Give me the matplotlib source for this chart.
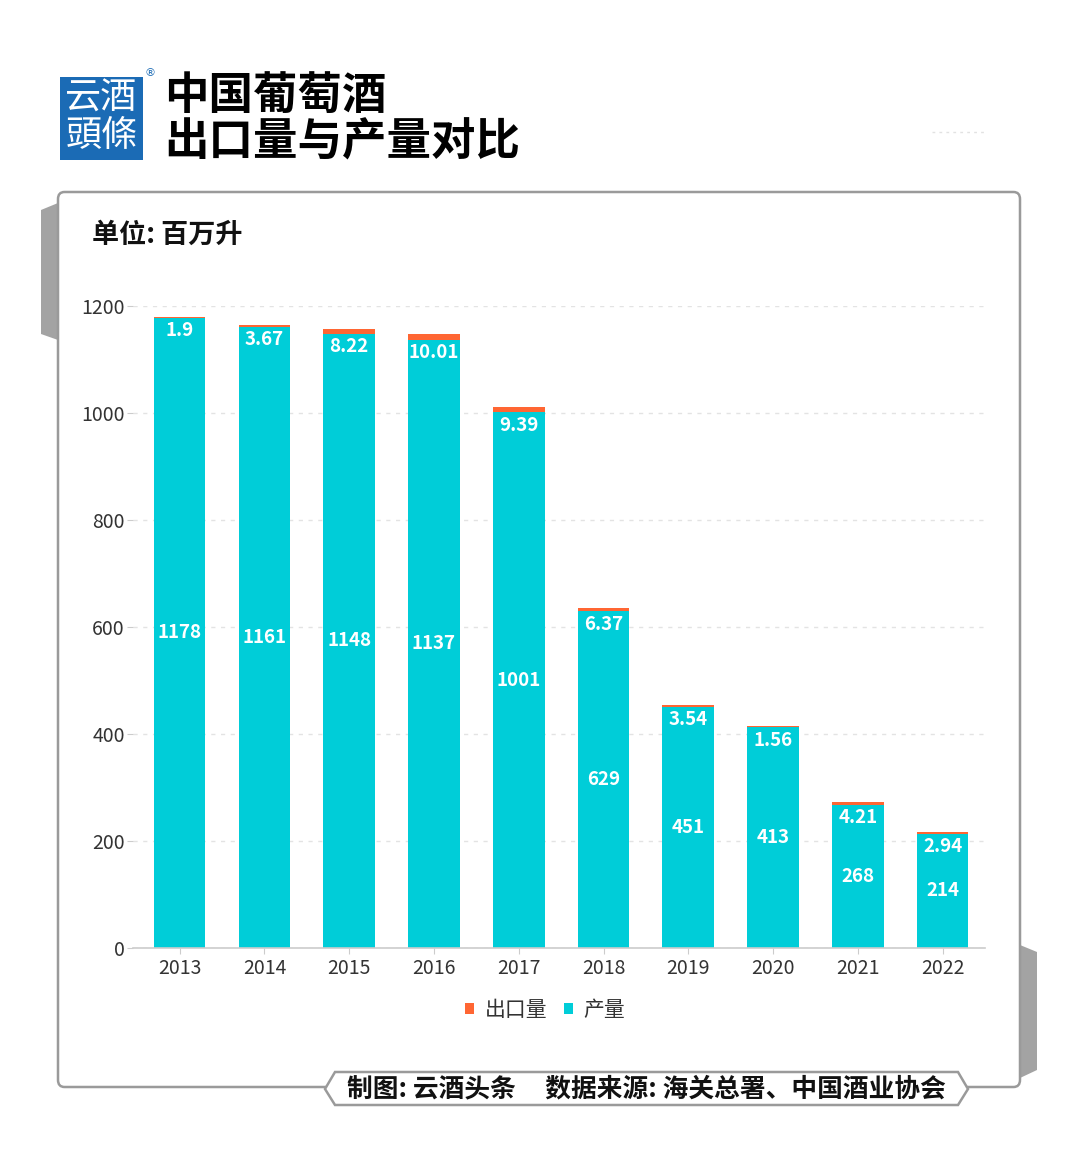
import matplotlib

matplotlib.use("Agg")
import matplotlib.pyplot as plt
from matplotlib.patches import FancyBboxPatch, Polygon, Rectangle
from matplotlib.lines import Line2D
from matplotlib.ticker import MultipleLocator

plt.rcParams["font.family"] = ["Noto Sans CJK SC", "DejaVu Sans"]

years = ["2013", "2014", "2015", "2016", "2017", "2018", "2019", "2020", "2021", "2022"]
production = [1178, 1161, 1148, 1137, 1001, 629, 451, 413, 268, 214]
export = [1.9, 3.67, 8.22, 10.01, 9.39, 6.37, 3.54, 1.56, 4.21, 2.94]
export_labels = ["1.9", "3.67", "8.22", "10.01", "9.39", "6.37", "3.54", "1.56", "4.21", "2.94"]

TEAL = "#00CDD8"
ORANGE = "#FF6633"
W, H = 1080, 1176


def fx(x):
    return x / W


def fy(y):
    return 1 - y / H


fig = plt.figure(figsize=(W / 100, H / 100), dpi=100)
fig.patch.set_facecolor("white")

# side shadows of the card
fig.patches.append(Polygon([(fx(41), fy(210)), (fx(58), fy(203)), (fx(58), fy(340)), (fx(41), fy(334))],
                           closed=True, transform=fig.transFigure, facecolor="#A3A3A3", edgecolor="none", zorder=0))
fig.patches.append(Polygon([(fx(1020), fy(945)), (fx(1037), fy(952)), (fx(1037), fy(1070)), (fx(1020), fy(1078))],
                           closed=True, transform=fig.transFigure, facecolor="#A3A3A3", edgecolor="none", zorder=0))
# card
fig.patches.append(FancyBboxPatch((fx(58), fy(1087)), fx(1020) - fx(58), fy(192) - fy(1087),
                                  boxstyle="round,pad=0,rounding_size=0.006", transform=fig.transFigure,
                                  facecolor="white", edgecolor="#9A9A9A", linewidth=1.8, zorder=1))

# logo
fig.patches.append(Rectangle((fx(60), fy(160)), fx(143) - fx(60), fy(77) - fy(160), transform=fig.transFigure,
                             facecolor="#1B6BB5", edgecolor="none", zorder=2))
fig.text(fx(101.5), fy(99), "云酒", color="white", fontsize=26, ha="center", va="center",
         family=["Noto Sans CJK TC", "DejaVu Sans"], zorder=3)
fig.text(fx(101.5), fy(136), "頭條", color="white", fontsize=26, ha="center", va="center",
         family=["Noto Sans CJK TC", "DejaVu Sans"], zorder=3)
fig.text(fx(150), fy(73), "®", color="#1B6BB5", fontsize=8, ha="center", va="center", family="DejaVu Sans")

# title
fig.text(fx(164), fy(96), "中国葡萄酒", fontsize=32, fontweight="heavy", color="black", ha="left", va="center")
fig.text(fx(164), fy(142), "出口量与产量对比", fontsize=32, fontweight="heavy", color="black", ha="left", va="center")
fig.lines.append(Line2D([fx(932), fx(986)], [fy(132), fy(132)], transform=fig.transFigure,
                        color="#E2E2E2", linestyle=(0, (2, 3)), linewidth=1))

fig.text(fx(92), fy(235), "单位: 百万升", fontsize=19.5, fontweight="bold", color="#111111", ha="left", va="center", zorder=3)

# chart
ax = fig.add_axes([fx(133), fy(948), fx(985) - fx(133), fy(306) - fy(948)])
ax.set_zorder(3)
ax.patch.set_alpha(0)
x = list(range(len(years)))
bars_p = ax.bar(x, production, width=0.61, color=TEAL, label="产量", zorder=2)
bars_e = ax.bar(x, export, bottom=production, width=0.61, color=ORANGE, label="出口量", zorder=2)

for i in x:
    ax.text(i, production[i] / 2, str(production[i]), color="white", fontsize=13.5, fontweight="bold",
            ha="center", va="center", zorder=4)
    ax.annotate(export_labels[i], (i, production[i]), xytext=(0, -13), textcoords="offset pixels",
                color="white", fontsize=13.5, fontweight="bold", ha="center", va="center", zorder=4)

ax.set_xlim(-0.55, 9.5)
ax.set_ylim(0, 1200)
ax.yaxis.set_major_locator(MultipleLocator(200))
ax.set_xticks(x)
ax.set_xticklabels(years)
ax.tick_params(axis="both", labelsize=14, labelcolor="#333333", color="#CCCCCC", length=4)
ax.tick_params(axis="x", pad=3)
ax.tick_params(axis="y", pad=2)
ax.grid(axis="y", color="#E3E3E3", linestyle=(0, (3, 4)), linewidth=1, zorder=0)
for side in ("top", "right", "left"):
    ax.spines[side].set_visible(False)
ax.spines["bottom"].set_color("#CCCCCC")
ax.spines["bottom"].set_linewidth(1.2)

handles = [bars_e, bars_p]
leg = fig.legend(handles, ["出口量", "产量"], loc="center", bbox_to_anchor=(fx(545), fy(1010)), ncol=2,
                 frameon=False, fontsize=15, handlelength=0.45, handleheight=0.45, handletextpad=0.5,
                 columnspacing=0.8)
for t in leg.get_texts():
    t.set_color("#333333")

# footer tag
fl, fr, ft, fb = 325, 968, 1072, 1105
fig.patches.append(Polygon([(fx(fl), fy(1089)), (fx(fl + 10), fy(ft)), (fx(fr - 10), fy(ft)), (fx(fr), fy(1089)),
                            (fx(fr - 10), fy(fb)), (fx(fl + 10), fy(fb))], closed=True,
                           transform=fig.transFigure, facecolor="white", edgecolor="#9A9A9A", linewidth=1.8, zorder=4))
fig.text(fx(646), fy(1089), "制图: 云酒头条     数据来源: 海关总署、中国酒业协会", fontsize=18.5, fontweight="bold",
         color="#111111", ha="center", va="center", zorder=5)

fig.savefig("out.png", dpi=100, facecolor="white")
